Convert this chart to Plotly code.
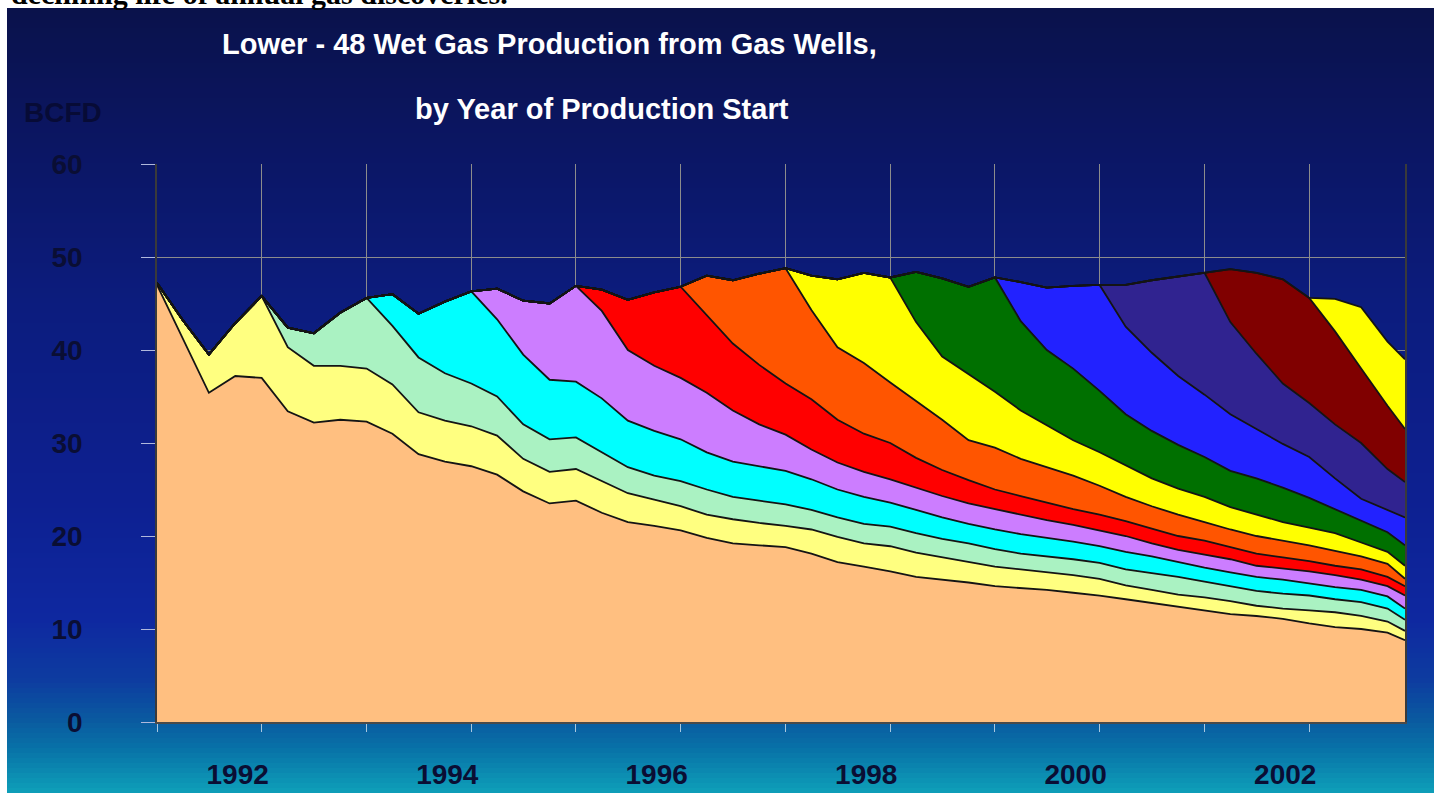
import plotly.graph_objects as go

# ---- time axis (quarterly samples, last point Dec 2002) ----
dates = ["1991-01-01", "1991-04-01", "1991-07-01", "1991-10-01",
         "1992-01-01", "1992-04-01", "1992-07-01", "1992-10-01",
         "1993-01-01", "1993-04-01", "1993-07-01", "1993-10-01",
         "1994-01-01", "1994-04-01", "1994-07-01", "1994-10-01",
         "1995-01-01", "1995-04-01", "1995-07-01", "1995-10-01",
         "1996-01-01", "1996-04-01", "1996-07-01", "1996-10-01",
         "1997-01-01", "1997-04-01", "1997-07-01", "1997-10-01",
         "1998-01-01", "1998-04-01", "1998-07-01", "1998-10-01",
         "1999-01-01", "1999-04-01", "1999-07-01", "1999-10-01",
         "2000-01-01", "2000-04-01", "2000-07-01", "2000-10-01",
         "2001-01-01", "2001-04-01", "2001-07-01", "2001-10-01",
         "2002-01-01", "2002-04-01", "2002-07-01", "2002-10-01",
         "2002-12-01"]

# ---- cumulative production (BCFD), top of each vintage band ----
# each list starts at the first quarter of that vintage's start year
top_pre1991 = [47.0, 41.2, 35.4, 37.2, 37.0, 33.4, 32.2, 32.5, 32.3, 31.0, 28.8, 28.0,
               27.5, 26.6, 24.8, 23.5, 23.8, 22.5, 21.5, 21.1, 20.6, 19.8, 19.2, 19.0,
               18.8, 18.1, 17.2, 16.7, 16.2, 15.6, 15.3, 15.0, 14.6, 14.4, 14.2, 13.9,
               13.6, 13.2, 12.8, 12.4, 12.0, 11.6, 11.4, 11.1, 10.6, 10.2, 10.0, 9.6, 8.8]
top_1991 = [47.2, 43.2, 39.5, 42.9, 45.8, 40.3, 38.3, 38.3, 38.0, 36.3, 33.3, 32.4,
            31.8, 30.8, 28.3, 26.9, 27.2, 25.9, 24.6, 23.9, 23.2, 22.3, 21.8, 21.4,
            21.1, 20.7, 19.9, 19.2, 18.9, 18.2, 17.7, 17.2, 16.7, 16.4, 16.1, 15.8,
            15.4, 14.7, 14.2, 13.7, 13.4, 13.0, 12.5, 12.2, 12.0, 11.8, 11.4, 10.8, 9.8]
top_1992 = [45.8, 42.4, 41.8, 44.0, 45.6, 42.6, 39.2, 37.5, 36.4, 35.0, 32.0, 30.4,
            30.6, 29.0, 27.4, 26.5, 25.9, 25.0, 24.2, 23.8, 23.4, 22.8, 22.0, 21.3,
            21.0, 20.3, 19.7, 19.2, 18.6, 18.1, 17.8, 17.5, 17.1, 16.4, 16.0, 15.6,
            15.1, 14.6, 14.1, 13.8, 13.6, 13.2, 12.9, 12.2, 11.0]
top_1993 = [45.6, 46.0, 43.9, 45.2, 46.3, 43.3, 39.5, 36.8, 36.6, 34.8, 32.4, 31.3,
            30.4, 29.0, 28.0, 27.5, 27.0, 26.1, 25.0, 24.2, 23.6, 22.8, 22.0, 21.3,
            20.7, 20.2, 19.8, 19.4, 18.9, 18.3, 17.8, 17.2, 16.6, 16.1, 15.6, 15.3,
            14.9, 14.5, 14.2, 13.5, 12.2]
top_1994 = [46.3, 46.6, 45.3, 45.0, 46.9, 44.2, 40.0, 38.3, 37.0, 35.4, 33.5, 32.0,
            30.9, 29.3, 27.9, 26.9, 26.1, 25.2, 24.3, 23.5, 22.9, 22.3, 21.7, 21.2,
            20.6, 20.0, 19.2, 18.5, 18.0, 17.5, 16.8, 16.5, 16.2, 15.8, 15.3, 14.6, 13.6]
top_1995 = [46.9, 46.5, 45.4, 46.2, 46.8, 43.8, 40.7, 38.4, 36.4, 34.7, 32.5, 31.0,
            30.0, 28.4, 27.1, 26.0, 25.0, 24.3, 23.6, 22.9, 22.3, 21.6, 20.8, 20.0,
            19.5, 18.8, 18.1, 17.7, 17.3, 16.8, 16.4, 15.6, 14.6]
top_1996 = [46.8, 48.0, 47.5, 48.2, 48.8, 44.3, 40.3, 38.6, 36.5, 34.5, 32.5, 30.3,
            29.5, 28.3, 27.4, 26.5, 25.4, 24.2, 23.2, 22.3, 21.5, 20.7, 20.0, 19.5,
            19.0, 18.4, 17.8, 17.0, 15.4]
top_1997 = [48.8, 48.0, 47.6, 48.3, 47.8, 43.0, 39.3, 37.4, 35.5, 33.5, 31.9, 30.3,
            29.0, 27.6, 26.2, 25.1, 24.2, 23.1, 22.3, 21.5, 20.9, 20.3, 19.3, 18.3, 16.8]
top_1998 = [47.8, 48.4, 47.7, 46.8, 47.8, 43.1, 40.0, 38.0, 35.6, 33.1, 31.3, 29.8,
            28.5, 27.0, 26.2, 25.2, 24.1, 22.9, 21.7, 20.4, 19.0]
top_1999 = [47.8, 47.3, 46.7, 46.9, 47.0, 42.5, 39.7, 37.2, 35.2, 33.1, 31.5, 29.9,
            28.5, 26.2, 24.0, 22.8, 22.0]
top_2000 = [47.0, 47.0, 47.5, 47.9, 48.3, 43.0, 39.6, 36.4, 34.3, 32.0, 30.0, 27.2, 25.8]
top_2001 = [48.3, 48.7, 48.3, 47.6, 45.6, 42.0, 38.0, 34.0, 31.5]
top_2002 = [45.6, 45.5, 44.6, 40.9, 39.0]

vintages = ["Pre-1991", "1991", "1992", "1993", "1994", "1995", "1996",
            "1997", "1998", "1999", "2000", "2001", "2002"]
tops = [top_pre1991, top_1991, top_1992, top_1993, top_1994, top_1995, top_1996,
        top_1997, top_1998, top_1999, top_2000, top_2001, top_2002]
colors = ["#FFBF80", "#FFFF80", "#AAF2C2", "#00FFFF", "#CC7DFF", "#FF0000", "#FF5500",
          "#FFFF00", "#007000", "#2222FF", "#302390", "#800000", "#FFFF00"]

x_years = ["1991", "1992", "1993", "1994", "1995", "1996", "1997",
           "1998", "1999", "2000", "2001", "2002"]
x_labels = ["", "1992", "", "1994", "", "1996", "", "1998", "", "2000", "", "2002"]
y_ticks = [0, 10, 20, 30, 40, 50, 60]

fig = go.Figure()

prev = None
for name, top, col in zip(vintages, tops, colors):
    n = len(dates)
    if prev is None:
        full = list(top)
    else:
        full = prev[: n - len(top)] + list(top)
    fig.add_trace(go.Scatter(
        x=dates, y=full, name=name, mode="lines",
        line=dict(color="#141414", width=1.8),
        fill="tozeroy" if prev is None else "tonexty",
        fillcolor=col, showlegend=False,
        hovertemplate=name + ": %{y:.1f}<extra></extra>"))
    prev = full

# ---- background gradient (paper-referenced bands) ----
W, H = 1434, 793
L, R, T, B = 157, 1405, 164, 722
def px_x(p):
    return (p - L) / (R - L)
def px_y(p):
    return (B - p) / (B - T)

stops = [(8, (10, 18, 75)), (150, (11, 22, 100)), (300, (12, 28, 125)),
         (500, (13, 32, 145)), (620, (14, 40, 160)), (680, (13, 60, 160)),
         (720, (10, 90, 160)), (750, (8, 115, 168)), (793, (14, 160, 185))]

def col_at(p):
    for (p0, c0), (p1, c1) in zip(stops[:-1], stops[1:]):
        if p0 <= p <= p1:
            f = (p - p0) / (p1 - p0)
            return "rgb(%d,%d,%d)" % tuple(round(a + (b - a) * f) for a, b in zip(c0, c1))
    return "rgb(%d,%d,%d)" % stops[-1][1]

shapes = []
band = 5
p = 8
while p < H:
    # each band runs to the bottom so that later bands cover earlier ones (no seams)
    shapes.append(dict(type="rect", xref="paper", yref="paper", layer="below",
                       x0=px_x(7), x1=px_x(W + 5), y0=px_y(H + 5), y1=px_y(p),
                       fillcolor=col_at(p + band / 2), line=dict(width=0)))
    p += band

annotations = [
    dict(text="declining life of annual gas discoveries.", xref="paper", yref="paper",
         x=px_x(9), y=px_y(12), xanchor="left", yanchor="bottom", showarrow=False,
         font=dict(family="Liberation Serif", size=30, color="black", weight="bold")),
    dict(text="Lower - 48 Wet Gas Production from Gas Wells,", xref="paper", yref="paper",
         x=px_x(549), y=px_y(44), xanchor="center", yanchor="middle", showarrow=False,
         font=dict(family="Liberation Sans", size=29, color="white", weight="bold")),
    dict(text="by Year of Production Start", xref="paper", yref="paper",
         x=px_x(602), y=px_y(109), xanchor="center", yanchor="middle", showarrow=False,
         font=dict(family="Liberation Sans", size=29, color="white", weight="bold")),
    dict(text="BCFD", xref="paper", yref="paper",
         x=px_x(63), y=px_y(112), xanchor="center", yanchor="middle", showarrow=False,
         font=dict(family="Liberation Sans", size=28, color="#070b36", weight="bold")),
]

tick_font = dict(family="Liberation Sans", size=28, color="#0a0e34", weight="bold")

fig.update_layout(
    width=W, height=H, autosize=False,
    margin=dict(l=L, r=W - R, t=T, b=H - B, pad=0, autoexpand=False),
    paper_bgcolor="white", plot_bgcolor="white",
    shapes=shapes, annotations=annotations,
    xaxis=dict(type="date", range=["1991-01-01", "2002-12-01"],
               tickvals=[y + "-01-01" for y in x_years], ticktext=x_labels,
               showgrid=True, gridcolor="#8c8c8c", gridwidth=1,
               ticks="outside", ticklen=8, tickcolor="#a8c8e0", tickwidth=1,
               showline=True, linecolor="#4a4a4a", linewidth=1.5,
               zeroline=False, ticklabelshift=-24, ticklabelstandoff=19,
               automargin=False, tickfont=tick_font),
    yaxis=dict(range=[0, 60], tickvals=y_ticks,
               showgrid=True, gridcolor="#8c8c8c", gridwidth=1,
               ticks="outside", ticklen=14, tickcolor="#b0b8dc", tickwidth=1,
               showline=True, linecolor="#3a3a3a", linewidth=1.5, mirror=True,
               zeroline=False, ticklabelstandoff=53, automargin=False,
               tickfont=tick_font),
)

fig.write_html("out.html", config={"displayModeBar": False},
               post_script="document.body.style.margin='0';document.body.style.overflow='hidden';")
